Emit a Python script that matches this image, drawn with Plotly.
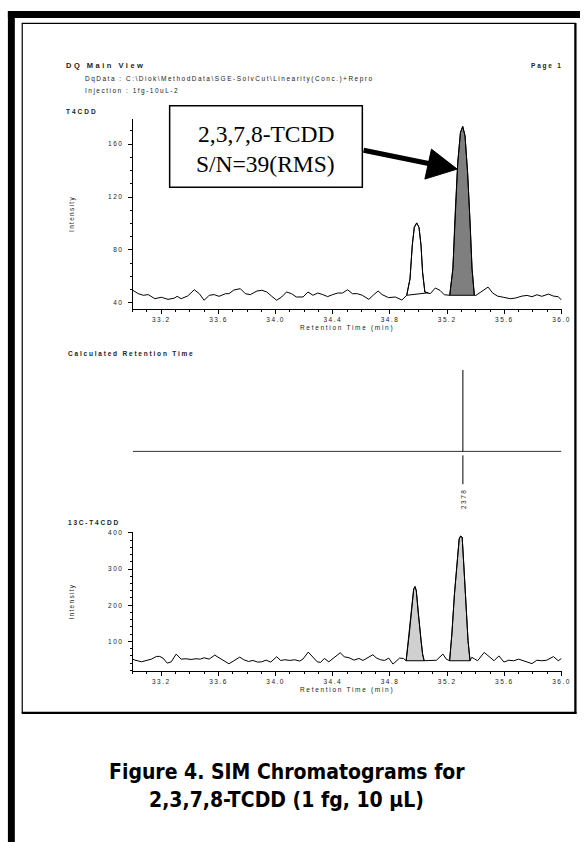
import json
import plotly.graph_objects as go

W, H = 587, 842

# ---------------- data ----------------
t4cdd_time = [33.000, 33.039, 33.074, 33.109, 33.155, 33.200, 33.247, 33.293, 33.311, 33.339,
              33.385, 33.431, 33.466, 33.500, 33.535, 33.570, 33.604, 33.650, 33.673, 33.708,
              33.753, 33.788, 33.823, 33.869, 33.903, 33.938, 33.973, 34.007, 34.042, 34.076,
              34.111, 34.145, 34.192, 34.226, 34.261, 34.295, 34.330, 34.364, 34.399, 34.434,
              34.468, 34.503, 34.537, 34.572, 34.606, 34.652, 34.687, 34.717, 34.745, 34.790,
              34.837, 34.883, 34.917, 34.940, 34.956, 34.970, 34.987, 35.003, 35.017, 35.028,
              35.044, 35.067, 35.082, 35.117, 35.150, 35.180, 35.218, 35.240, 35.256, 35.274,
              35.293, 35.309, 35.325, 35.343, 35.360, 35.374, 35.390, 35.401, 35.436, 35.486,
              35.517, 35.551, 35.597, 35.643, 35.678, 35.724, 35.759, 35.793, 35.828, 35.862,
              35.908, 35.943, 35.977, 36.000]
t4cdd_intensity = [49.4, 46.8, 45.6, 46.1, 43.0, 44.1, 42.5, 43.5, 44.8, 43.0,
                   45.1, 49.8, 46.8, 41.8, 45.6, 46.1, 44.8, 46.8, 46.8, 49.6,
                   50.6, 46.8, 46.1, 48.8, 49.4, 48.1, 44.8, 41.8, 44.3, 48.1,
                   46.8, 44.3, 44.3, 48.1, 45.6, 47.3, 46.1, 44.6, 46.1, 47.3,
                   47.3, 49.8, 46.8, 46.8, 45.6, 42.5, 46.1, 48.8, 46.1, 43.8,
                   44.3, 42.0, 45.6, 58.0, 83.5, 97.0, 100.4, 97.0, 83.5, 63.0,
                   48.0, 47.5, 46.8, 51.1, 49.3, 46.0, 45.6, 65.7, 108.0, 146.0,
                   168.9, 173.4, 166.3, 138.6, 101.0, 65.7, 45.6, 45.5, 48.1, 51.8,
                   47.5, 45.0, 44.0, 43.0, 43.5, 45.0, 45.5, 44.5, 46.0, 44.8,
                   46.5, 45.0, 44.5, 42.0]
t4cdd_peak_windows = [(34.917, 35.067), (35.218, 35.390)]

c13_time = [33.000, 33.016, 33.062, 33.097, 33.132, 33.166, 33.189, 33.212, 33.242, 33.270,
            33.304, 33.339, 33.373, 33.408, 33.443, 33.473, 33.500, 33.535, 33.574, 33.604,
            33.638, 33.673, 33.708, 33.749, 33.777, 33.811, 33.841, 33.874, 33.903, 33.933,
            33.966, 34.007, 34.035, 34.065, 34.099, 34.134, 34.168, 34.191, 34.228, 34.261,
            34.291, 34.314, 34.341, 34.372, 34.410, 34.452, 34.480, 34.514, 34.549, 34.583,
            34.611, 34.641, 34.680, 34.703, 34.733, 34.763, 34.791, 34.821, 34.848, 34.867,
            34.894, 34.913, 34.935, 34.952, 34.966, 34.975, 34.984, 34.998, 35.017, 35.028,
            35.039, 35.067, 35.100, 35.125, 35.170, 35.194, 35.217, 35.233, 35.251, 35.270,
            35.284, 35.293, 35.305, 35.316, 35.332, 35.346, 35.360, 35.372, 35.390, 35.413,
            35.459, 35.493, 35.528, 35.562, 35.597, 35.631, 35.666, 35.700, 35.747, 35.793,
            35.827, 35.862, 35.896, 35.943, 35.977, 36.000]
c13_intensity = [51.1, 48.3, 43.7, 48.3, 51.1, 58.5, 58.5, 53.9, 40.0, 43.7,
                 64.9, 51.1, 52.0, 50.2, 52.0, 51.1, 54.8, 51.1, 62.2, 54.8,
                 46.5, 38.2, 46.5, 56.6, 49.3, 44.6, 47.4, 42.8, 43.7, 48.3,
                 42.8, 57.6, 47.4, 49.3, 47.4, 49.3, 45.6, 51.1, 70.5, 57.6,
                 43.7, 41.9, 53.0, 43.7, 56.6, 68.6, 57.6, 54.8, 48.3, 53.0,
                 47.4, 53.9, 63.1, 54.8, 49.3, 47.4, 53.9, 37.3, 47.4, 53.9,
                 53.0, 46.6, 120.5, 194.0, 245.0, 251.4, 240.0, 175.8, 102.0, 65.0,
                 46.6, 46.6, 48.3, 48.0, 65.0, 51.0, 46.6, 120.5, 231.0, 323.0,
                 383.0, 390.6, 387.9, 314.0, 194.0, 102.0, 46.6, 56.0, 52.0, 46.6,
                 69.6, 58.0, 46.6, 60.0, 43.0, 48.0, 46.6, 51.0, 45.0, 38.6,
                 48.0, 46.6, 48.0, 58.0, 46.6, 53.0]
c13_peak_windows = [(34.913, 35.039), (35.217, 35.360)]

calc_rt = 35.31
calc_rt_label = "2378"

x_range = [33.0, 36.0]
x_tickvals = [33.2, 33.6, 34.0, 34.4, 34.8, 35.2, 35.6, 36.0]
x_ticktext = ["33.2", "33.6", "34.0", "34.4", "34.8", "35.2", "35.6", "36.0"]
t4_yticks = [40, 80, 120, 160]
t4_yticktext = ["40", "80", "120", "160"]
c13_yticks = [100, 200, 300, 400]
c13_yticktext = ["100", "200", "300", "400"]

# ---------------- helpers ----------------
SANS = "Arial, Liberation Sans, Helvetica, sans-serif"
SERIF = "Times New Roman, Liberation Serif, serif"
CAP = "Liberation Sans Narrow, Arial Narrow, DejaVu Sans Condensed, sans-serif"
TXT = "#222222"


def px(x):
    return x / W


def py(y):
    return 1 - y / H


def peak_poly(times, vals, window):
    xs = [t for t in times if window[0] <= t <= window[1]]
    ys = [v for t, v in zip(times, vals) if window[0] <= t <= window[1]]
    return xs + [xs[0]], ys + [ys[0]]


X_DOM = [px(134.3), px(568.3)]

fig = go.Figure()

# plot 1 peaks
fills1 = ["white", "#7f7f7f"]
for win, col in zip(t4cdd_peak_windows, fills1):
    xs, ys = peak_poly(t4cdd_time, t4cdd_intensity, win)
    fig.add_trace(go.Scatter(x=xs, y=ys, mode="lines", fill="toself", fillcolor=col,
                             line=dict(color="black", width=1), xaxis="x", yaxis="y",
                             hoverinfo="skip"))
fig.add_trace(go.Scatter(x=t4cdd_time, y=t4cdd_intensity, mode="lines",
                         line=dict(color="black", width=1), xaxis="x", yaxis="y"))

# plot 2 (calculated retention time)
fig.add_trace(go.Scatter(x=x_range, y=[0, 0], mode="lines",
                         line=dict(color="#333333", width=1), xaxis="x2", yaxis="y2"))
fig.add_trace(go.Scatter(x=[calc_rt, calc_rt], y=[0, 1], mode="lines",
                         line=dict(color="black", width=1), xaxis="x2", yaxis="y2"))
fig.add_trace(go.Scatter(x=[calc_rt, calc_rt], y=[-0.049, -0.402], mode="lines",
                         line=dict(color="black", width=1), xaxis="x2", yaxis="y2"))

# plot 3 peaks
for win in c13_peak_windows:
    xs, ys = peak_poly(c13_time, c13_intensity, win)
    fig.add_trace(go.Scatter(x=xs, y=ys, mode="lines", fill="toself", fillcolor="#d0d0d0",
                             line=dict(color="black", width=1), xaxis="x3", yaxis="y3",
                             hoverinfo="skip"))
fig.add_trace(go.Scatter(x=c13_time, y=c13_intensity, mode="lines",
                         line=dict(color="black", width=1), xaxis="x3", yaxis="y3"))

tickfont = dict(family=SANS, size=6.5, color=TXT)
titlefont = dict(family=SANS, size=6.5, color=TXT)
minor_x = dict(tickmode="linear", tick0=33.0, dtick=0.1, ticks="outside", ticklen=2,
               tickcolor="black", tickwidth=1)


def xaxis(anchor):
    return dict(domain=X_DOM, range=x_range, anchor=anchor, showline=True, linecolor="black",
                linewidth=1, ticks="outside", ticklen=4, tickcolor="black", tickwidth=1,
                tickmode="array", tickvals=x_tickvals, ticktext=x_ticktext, tickfont=tickfont,
                showgrid=False, zeroline=False, minor=minor_x,
                title=dict(text="Retention Time (min)", font=titlefont, standoff=3))


def yaxis(anchor, dom, rng, tv, tt, mdt):
    return dict(domain=dom, range=rng, anchor=anchor, showline=True, linecolor="black",
                linewidth=1, ticks="outside", ticklen=4, tickcolor="black", tickwidth=1,
                tickmode="array", tickvals=tv, ticktext=tt, tickfont=tickfont,
                showgrid=False, zeroline=False, ticklabelstandoff=3,
                minor=dict(tickmode="linear", tick0=0, dtick=mdt, ticks="outside", ticklen=2,
                           tickcolor="black", tickwidth=1),
                title=dict(text="Intensity", font=titlefont, standoff=37))


fig.update_layout(
    width=W, height=H, margin=dict(l=0, r=0, t=0, b=0),
    paper_bgcolor="white", plot_bgcolor="rgba(0,0,0,0)", showlegend=False,
    xaxis=xaxis("y"),
    yaxis=yaxis("x", [py(307.5), py(116)], [34.9, 179.4], t4_yticks, t4_yticktext, 10),
    xaxis2=dict(domain=X_DOM, range=x_range, anchor="y2", visible=False),
    yaxis2=dict(domain=[py(510), py(368)], range=[-0.732, 1], anchor="x2", visible=False),
    xaxis3=xaxis("y3"),
    yaxis3=yaxis("x3", [py(670.7), py(530.7)], [17.4, 402.8], c13_yticks, c13_yticktext, 20),
)

# ---------------- frame, box, arrow ----------------
shapes = [
    dict(type="rect", xref="paper", yref="paper", x0=px(8), x1=px(15), y0=py(842), y1=py(8),
         fillcolor="black", line=dict(width=0)),
    dict(type="rect", xref="paper", yref="paper", x0=px(8), x1=px(587), y0=py(15), y1=py(8),
         fillcolor="black", line=dict(width=0)),
    dict(type="rect", xref="paper", yref="paper", x0=px(22.5), x1=px(582), y0=py(712), y1=py(20.5),
         line=dict(color="black", width=1.2)),
    dict(type="line", xref="paper", yref="paper", x0=px(582.5), x1=px(582.5), y0=py(713), y1=py(20),
         line=dict(color="black", width=2)),
    dict(type="line", xref="paper", yref="paper", x0=px(22), x1=px(583.5), y0=py(712.5), y1=py(712.5),
         line=dict(color="black", width=2)),
    dict(type="rect", xref="paper", yref="paper", x0=px(171.7), x1=px(366.7), y0=py(185), y1=py(103),
         fillcolor="white", line=dict(color="black", width=1.5)),
    dict(type="line", xref="paper", yref="paper", x0=px(368), x1=px(440), y0=py(147.8), y1=py(162.3),
         line=dict(color="black", width=5)),
    dict(type="path", xref="paper", yref="paper",
         path="M {:.5f},{:.5f} L {:.5f},{:.5f} L {:.5f},{:.5f} Z".format(
             px(462.7), py(166.7), px(436.7), py(146.7), px(430.0), py(176.7)),
         fillcolor="black", line=dict(color="black", width=1)),
]
fig.update_layout(shapes=shapes)

# ---------------- text ----------------
annotations = []
spacing = []


def add_text(text, x, y, size, bold=False, family=SANS, xanchor="left", align="left",
             sp=0, color=TXT, **kw):
    annotations.append(dict(text=("<b>%s</b>" % text) if bold else text, x=x, y=y,
                            xref="paper", yref="paper", xanchor=xanchor, yanchor="middle",
                            align=align, showarrow=False,
                            font=dict(family=family, size=size, color=color), **kw))
    spacing.append(sp)


add_text("DQ Main View", px(65), py(63), 7.5, bold=True, sp=2.5)
add_text("DqData : C:\\Diok\\MethodData\\SGE-SolvCut\\Linearity(Conc.)+Repro", px(84), py(76.3), 6.5, sp=1.5)
add_text("Injection : 1fg-10uL-2", px(84), py(88.7), 6.5, sp=1.5)
add_text("Page 1", px(535), py(63), 6.5, bold=True, sp=1.8)
add_text("T4CDD", px(65), py(108.7), 6.5, bold=True, sp=2.0)
add_text("Calculated Retention Time", px(67), py(351.7), 6.5, bold=True, sp=1.8)
add_text("13C-T4CDD", px(67), py(521.7), 6.5, bold=True, sp=1.8)
add_text("2,3,7,8-TCDD", px(269.2), py(131.7), 23.5, family=SERIF, xanchor="center",
         align="center", color="black")
add_text("S/N=39(RMS)", px(269.2), py(161.7), 23.5, family=SERIF, xanchor="center",
         align="center", color="black")
add_text("Figure 4. SIM Chromatograms for", px(290), py(772), 21, bold=True, family=CAP,
         xanchor="center", align="center", color="black")
add_text("2,3,7,8-TCDD (1 fg, 10 µL)", px(290), py(800), 21, bold=True, family=CAP,
         xanchor="center", align="center", color="black")
annotations.append(dict(text=calc_rt_label, x=calc_rt, y=-0.573, xref="x2", yref="y2",
                        xanchor="center", yanchor="middle", textangle=-90, showarrow=False,
                        font=dict(family=SANS, size=6.5, color=TXT)))
spacing.append(1.5)

fig.update_layout(annotations=annotations)

post = """
document.documentElement.style.margin = '0';
document.documentElement.style.padding = '0';
document.body.style.margin = '0';
document.body.style.padding = '0';
document.body.style.overflow = 'hidden';
var gd = document.getElementById('{plot_id}');
var SP = __SP__;
function applySpacing(){
  gd.querySelectorAll('g.annotation').forEach(function(g){
    var i = parseInt(g.getAttribute('data-index'));
    var t = g.querySelector('text.annotation-text');
    if (t && SP[i]) { t.style.letterSpacing = SP[i] + 'px'; }
  });
  gd.querySelectorAll('g[class*="tick"] > text').forEach(function(t){ t.style.letterSpacing = '1.5px'; });
  gd.querySelectorAll('text.xtitle, text.x3title').forEach(function(t){ t.style.letterSpacing = '1.7px'; });
  gd.querySelectorAll('text.ytitle, text.y3title').forEach(function(t){ t.style.letterSpacing = '1.3px'; });
}
applySpacing();
gd.on('plotly_afterplot', applySpacing);
""".replace("__SP__", json.dumps(spacing))

fig.write_html("out.html", post_script=post,
               config={"displayModeBar": False, "responsive": False})
